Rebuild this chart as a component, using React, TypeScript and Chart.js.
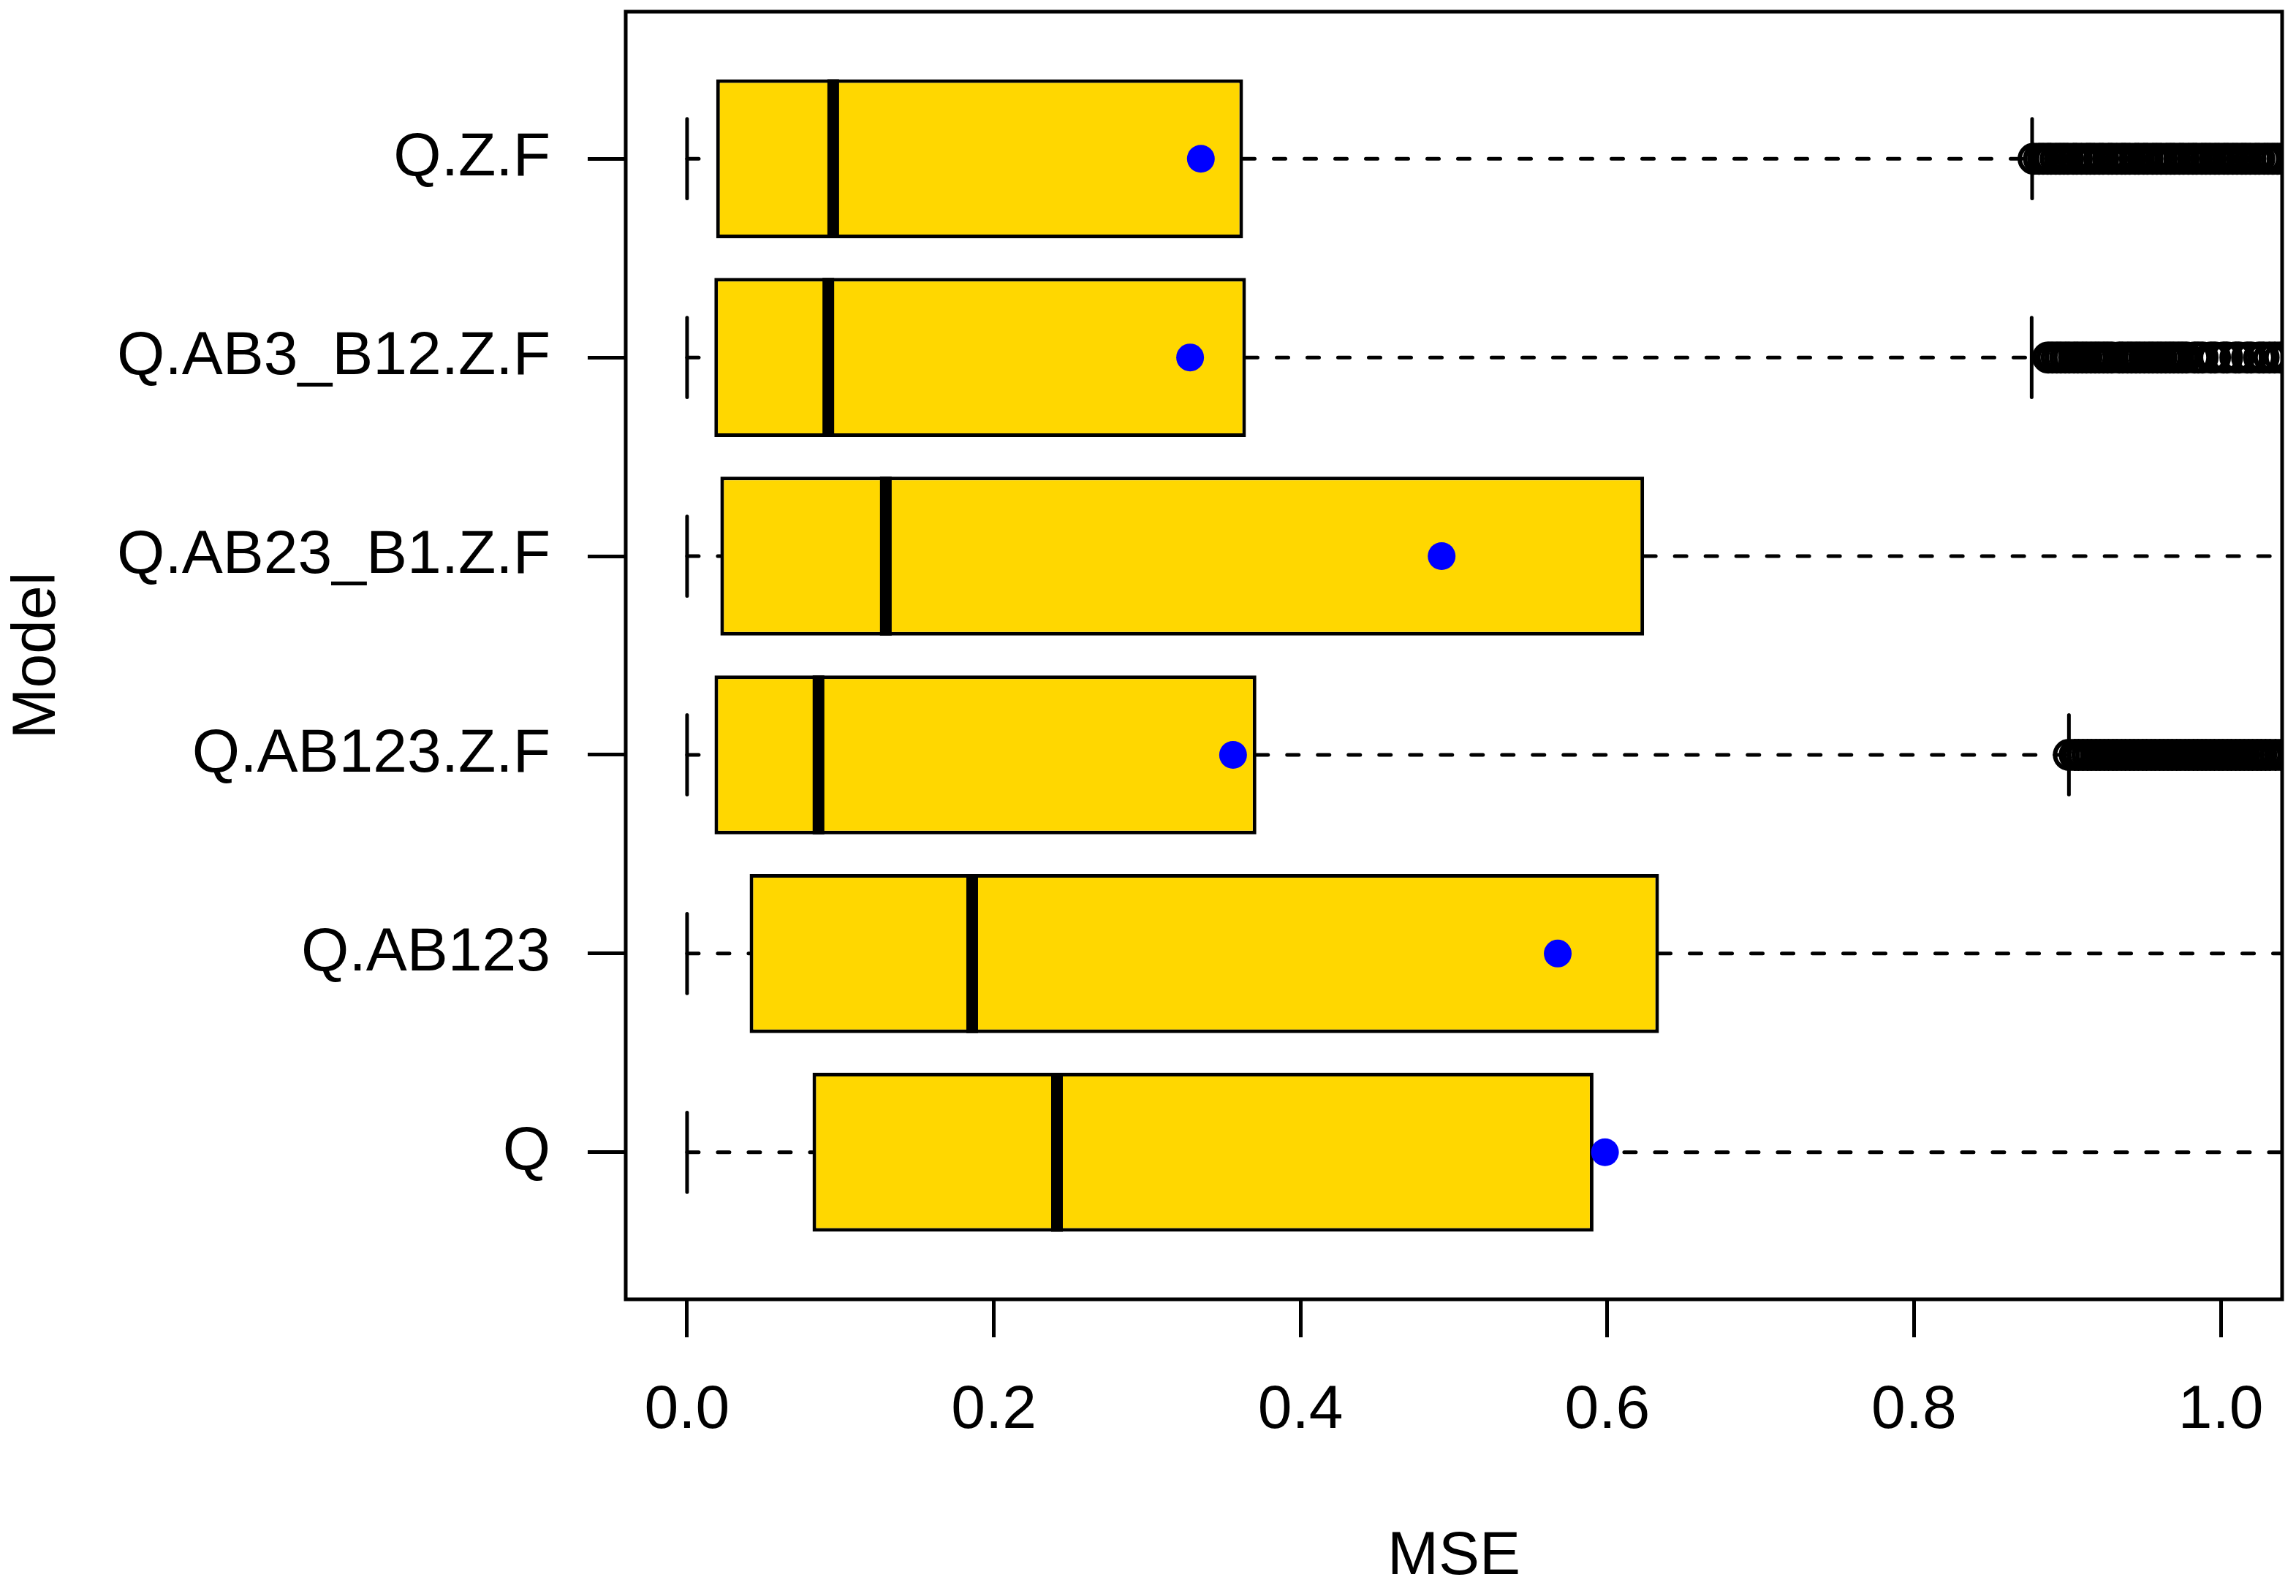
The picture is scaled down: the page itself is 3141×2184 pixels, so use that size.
import React, { useEffect, useRef } from "react";
import { Chart, registerables } from "chart.js";

Chart.register(...registerables);

// ---- data (bottom to top) ----
const categories = ["Q", "Q.AB123", "Q.AB123.Z.F", "Q.AB23_B1.Z.F", "Q.AB3_B12.Z.F", "Q.Z.F"];
const positions = [1, 2, 3, 4, 5, 6];
const whiskerLow = [0, 0, 0, 0, 0, 0];
const q1 = [0.0818, 0.0408, 0.0179, 0.0217, 0.0178, 0.019];
const medians = [0.2412, 0.1859, 0.0857, 0.1296, 0.0921, 0.0953];
const q3 = [0.591, 0.6337, 0.3712, 0.624, 0.3644, 0.3625];
const whiskerHigh = [1.42, 1.48, 0.901, 1.45, 0.8767, 0.877];
const means = [0.5985, 0.5677, 0.356, 0.492, 0.328, 0.335];

const outliersQAB123ZF = [
  0.901, 0.9048, 0.9073, 0.9102, 0.9131, 0.9157, 0.9186, 0.9213, 0.9241, 0.9268, 0.9297, 0.9323,
  0.9352, 0.9379, 0.9407, 0.9434, 0.9462, 0.9491, 0.9517, 0.9546, 0.9572, 0.9601, 0.9628, 0.9656,
  0.9683, 0.9712, 0.9738, 0.9767, 0.9793, 0.9822, 0.9849, 0.9877, 0.9904, 0.9932, 0.9959, 0.9988,
  1.0014, 1.0043, 1.0069, 1.0098, 1.0125, 1.0153, 1.0181, 1.0208, 1.0237, 1.0263, 1.0292, 1.0321,
  1.0357, 1.0394, 1.0438,
];
const outliersQAB3B12ZF = [
  0.8875, 0.8902, 0.8931, 0.8957, 0.8986, 0.9012, 0.9043, 0.9068, 0.9097, 0.9124, 0.9153, 0.9181,
  0.9207, 0.9236, 0.9262, 0.9289, 0.9338, 0.9361, 0.9392, 0.9418, 0.9447, 0.9473, 0.9502, 0.9531,
  0.9557, 0.9586, 0.9612, 0.9641, 0.9668, 0.9694, 0.9723, 0.9749, 0.9776, 0.9829, 0.9853, 0.9881,
  0.9935, 0.9962, 1.0018, 1.0041, 1.0096, 1.0119, 1.0172, 1.0198, 1.0251, 1.0279, 1.0318, 1.0352,
  1.0389, 1.0436,
];
const outliersQZF = [
  0.878, 0.8815, 0.8842, 0.8871, 0.8893, 0.8924, 0.8951, 0.8977, 0.9003, 0.9038, 0.9061, 0.9092,
  0.9125, 0.9149, 0.9176, 0.9208, 0.9233, 0.9267, 0.9291, 0.9322, 0.9354, 0.9378, 0.9406, 0.9441,
  0.9465, 0.9497, 0.9522, 0.9556, 0.9583, 0.9611, 0.9645, 0.9672, 0.9698, 0.9731, 0.9757, 0.9789,
  0.9818, 0.9842, 0.9876, 0.9903, 0.9931, 0.9962, 0.9989, 1.0021, 1.0047, 1.0078, 1.0106, 1.0137,
  1.0163, 1.0192, 1.0225, 1.0251, 1.0283, 1.0309, 1.0338, 1.0369, 1.0402, 1.0441, 1.0497,
];
const outlierRows = [
  { pos: 3, values: outliersQAB123ZF },
  { pos: 5, values: outliersQAB3B12ZF },
  { pos: 6, values: outliersQZF },
];

const xTickValues = [0, 0.2, 0.4, 0.6, 0.8, 1.0];
const xTickLabels = ["0.0", "0.2", "0.4", "0.6", "0.8", "1.0"];
const xTitle = "MSE";
const yTitle = "Model";

// ---- styling constants ----
const W = 3141;
const H = 2184;
const HALF_BOX = 0.4;
const HALF_STAPLE = 0.2;
const FONT = "'Liberation Sans', Arial, Helvetica, sans-serif";
const FS = 84;
const LW = 5;

const framePlugin = {
  id: "frame",
  afterDraw(chart: any) {
    const { ctx, chartArea } = chart;
    ctx.save();
    ctx.strokeStyle = "#000";
    ctx.lineWidth = LW;
    ctx.strokeRect(chartArea.left, chartArea.top, chartArea.right - chartArea.left, chartArea.bottom - chartArea.top);
    ctx.restore();
  },
};

export default function App() {
  const ref = useRef<HTMLCanvasElement | null>(null);

  useEffect(() => {
    if (!ref.current) return;
    const datasets: any[] = [];

    datasets.push({
      type: "scatter",
      label: "mean",
      data: means.map((m, i) => ({ x: m, y: positions[i] })),
      pointRadius: 19,
      pointBackgroundColor: "#0000FF",
      pointBorderWidth: 0,
      order: 0,
    });

    positions.forEach((p, i) => {
      datasets.push({
        type: "line",
        data: [
          { x: medians[i], y: p - HALF_BOX },
          { x: medians[i], y: p + HALF_BOX },
        ],
        borderColor: "#000",
        borderWidth: 16,
        borderCapStyle: "butt",
        pointRadius: 0,
        fill: false,
        order: 1,
      });
    });

    outlierRows.forEach((row) => {
      datasets.push({
        type: "scatter",
        data: row.values.map((v) => ({ x: v, y: row.pos })),
        pointRadius: 19,
        pointBorderWidth: 6,
        pointBorderColor: "#000",
        pointBackgroundColor: "rgba(0,0,0,0)",
        order: 1.5,
      });
    });

    datasets.push({
      type: "bar",
      indexAxis: "y",
      data: positions.map((p, i) => ({ x: [q1[i], q3[i]], y: p })),
      backgroundColor: "#FFD700",
      borderColor: "#000",
      borderWidth: LW,
      borderSkipped: false,
      barPercentage: 0.8,
      categoryPercentage: 1,
      order: 2,
    });

    positions.forEach((p, i) => {
      const dashed = {
        type: "line",
        borderColor: "#000",
        borderWidth: LW,
        borderDash: [16, 26],
        borderCapStyle: "round",
        pointRadius: 0,
        fill: false,
        order: 3,
      };
      datasets.push({ ...dashed, data: [{ x: whiskerLow[i], y: p }, { x: q1[i], y: p }] });
      datasets.push({ ...dashed, data: [{ x: q3[i], y: p }, { x: whiskerHigh[i], y: p }] });
      const staple = {
        type: "line",
        borderColor: "#000",
        borderWidth: LW,
        borderCapStyle: "round",
        pointRadius: 0,
        fill: false,
        order: 3,
      };
      datasets.push({ ...staple, data: [{ x: whiskerLow[i], y: p - HALF_STAPLE }, { x: whiskerLow[i], y: p + HALF_STAPLE }] });
      datasets.push({ ...staple, data: [{ x: whiskerHigh[i], y: p - HALF_STAPLE }, { x: whiskerHigh[i], y: p + HALF_STAPLE }] });
    });

    Chart.defaults.font.family = FONT;
    Chart.defaults.color = "#000";

    const chart = new Chart(ref.current, {
      type: "bar",
      data: { datasets },
      plugins: [framePlugin],
      options: {
        responsive: false,
        animation: false,
        devicePixelRatio: 1,
        events: [],
        layout: { autoPadding: false, padding: { top: 16, right: 19, left: 0, bottom: 0 } },
        plugins: { legend: { display: false }, tooltip: { enabled: false } },
        scales: {
          x: {
            type: "linear",
            position: "bottom",
            offset: false,
            min: -0.04,
            max: 1.04,
            afterBuildTicks: (scale: any) => {
              scale.ticks = xTickValues.map((v) => ({ value: v }));
            },
            afterFit: (scale: any) => {
              scale.height = 406;
              scale.paddingLeft = 0;
              scale.paddingRight = 0;
            },
            ticks: {
              callback: (_v: any, idx: number) => xTickLabels[idx],
              font: { size: FS, family: FONT },
              color: "#000",
              padding: 50,
              maxRotation: 0,
              autoSkip: false,
            },
            grid: {
              offset: false,
              drawOnChartArea: false,
              drawTicks: true,
              tickLength: 52,
              color: "#000",
              lineWidth: LW,
            },
            border: { display: false },
            title: {
              display: true,
              text: xTitle,
              font: { size: FS, family: FONT },
              color: "#000",
              padding: { top: 0, bottom: 3 },
            },
          },
          y: {
            type: "linear",
            position: "left",
            offset: false,
            min: 0.26,
            max: 6.74,
            afterBuildTicks: (scale: any) => {
              scale.ticks = positions.map((v) => ({ value: v }));
            },
            afterFit: (scale: any) => {
              scale.width = 856;
              scale.paddingTop = 0;
              scale.paddingBottom = 0;
            },
            ticks: {
              callback: (v: any) => categories[Math.round(Number(v)) - 1],
              font: { size: FS, family: FONT },
              color: "#000",
              padding: 51,
              autoSkip: false,
            },
            grid: {
              offset: false,
              drawOnChartArea: false,
              drawTicks: true,
              tickLength: 52,
              color: "#000",
              lineWidth: LW,
            },
            border: { display: false },
            title: {
              display: true,
              text: yTitle,
              font: { size: FS, family: FONT },
              color: "#000",
              padding: { top: 1, bottom: 0 },
            },
          },
        },
      } as any,
    });
    return () => chart.destroy();
  }, []);

  return (
    <div style={{ position: "absolute", left: 0, top: 0, width: W, height: H, background: "#fff" }}>
      <canvas ref={ref} width={W} height={H} style={{ display: "block", width: W, height: H }} />
    </div>
  );
}
